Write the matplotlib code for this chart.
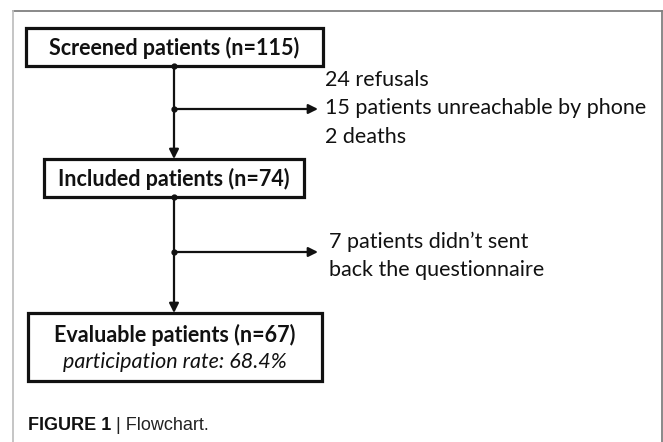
import matplotlib
matplotlib.use('Agg')
import matplotlib.pyplot as plt
from matplotlib.patches import Rectangle

# flowchart contents
box_labels = ['Screened patients (n=115)', 'Included patients (n=74)', 'Evaluable patients (n=67)']
box_sublabel = 'participation rate: 68.4%'
side_notes = [['24 refusals', '15 patients unreachable by phone', '2 deaths'],
              ['7 patients didn\u2019t sent', 'back the questionnaire']]
caption_bold = 'FIGURE 1'
caption_rest = ' | Flowchart.'

# layout in pixels (y downward)
W, H = 663, 442
boxes = [(26, 28, 323, 66), (44, 159, 304, 197), (28, 313, 322, 381)]
xc = 174
branch_y = [109, 252]
arrow_end = 318
note_x = 325
note_y = [[80, 108, 137], [242, 270]]

box_font = 'Lato'
fs = 15.5
black = '#111111'

fig = plt.figure(figsize=(W / 100, H / 100), dpi=100)
ax = fig.add_axes([0, 0, 1, 1])
ax.set_xlim(0, W)
ax.set_ylim(H, 0)
ax.axis('off')

# outer frame (top/right dark, left light)
ax.plot([13, 662], [11, 11], color='#808080', lw=1.3)
ax.plot([662, 662], [11, H], color='#808080', lw=1.3)
ax.plot([13, 13], [11, H], color='#c0c0c0', lw=1.3)

for i, (x0, y0, x1, y1) in enumerate(boxes):
    ax.add_patch(Rectangle((x0, y0), x1 - x0, y1 - y0, fill=False, ec=black, lw=2.3))
    if i < 2:
        ax.text((x0 + x1) / 2, (y0 + y1) / 2 + 1, box_labels[i], ha='center', va='center',
                fontsize=fs, fontweight='bold', family=box_font, color=black)
    else:
        ax.text((x0 + x1) / 2, 335, box_labels[i], ha='center', va='center',
                fontsize=fs, fontweight='bold', family=box_font, color=black)
        ax.text((x0 + x1) / 2, 362, box_sublabel, ha='center', va='center',
                fontsize=fs, style='italic', family=box_font, color=black)

# vertical connectors with branches
for i in range(2):
    ytop = boxes[i][3]
    ybot = boxes[i + 1][1]
    ax.annotate('', xy=(xc, ybot), xytext=(xc, ytop),
                arrowprops=dict(arrowstyle='-|>', color=black, lw=1.6, mutation_scale=14,
                                shrinkA=0, shrinkB=0))
    ax.annotate('', xy=(arrow_end, branch_y[i]), xytext=(xc, branch_y[i]),
                arrowprops=dict(arrowstyle='-|>', color=black, lw=1.6, mutation_scale=14,
                                shrinkA=0, shrinkB=0))
    ax.plot([xc, xc], [ytop, branch_y[i]], 'o', color=black, ms=3.5)
    for txt, y in zip(side_notes[i], note_y[i]):
        ax.text(note_x + 4 * i, y, txt, ha='left', va='center', fontsize=fs,
                family=box_font, color=black)

t1 = ax.text(28, 426, caption_bold, ha='left', va='center', fontsize=13,
             fontweight='bold', family='Liberation Sans', color=black)
ax.annotate(caption_rest, xy=(1, 0.5), xycoords=t1, ha='left', va='center',
            fontsize=13, family='Liberation Sans', color='#222222')

fig.savefig('out.png', dpi=100)
